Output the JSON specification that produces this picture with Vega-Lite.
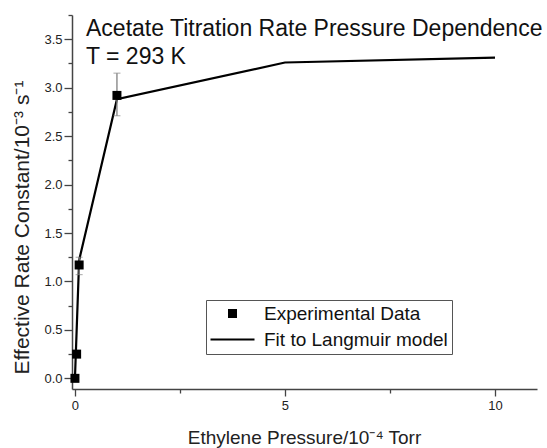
{
  "$schema": "https://vega.github.io/schema/vega-lite/v6.json",
  "width": 465,
  "height": 374,
  "autosize": "none",
  "padding": {"left": 72, "top": 15, "right": 10, "bottom": 59},
  "background": "white",
  "config": {
    "view": {"stroke": null},
    "font": "Liberation Sans",
    "axis": {"grid": false}
  },
  "title": {
    "text": ["Acetate Titration Rate Pressure Dependence", "T = 293 K"],
    "anchor": "start",
    "frame": "group",
    "fontSize": 23,
    "fontWeight": "normal",
    "color": "#111111",
    "lineHeight": 28,
    "baseline": "alphabetic",
    "offset": -73,
    "dx": 14
  },
  "datasets": {
    "fit": [
      {"P": 0, "k": 0},
      {"P": 0.1, "k": 1.22},
      {"P": 1, "k": 2.88},
      {"P": 5, "k": 3.26},
      {"P": 10, "k": 3.31}
    ],
    "exp": [
      {"P": 0, "k": 0, "lo": 0, "hi": 0, "series": "Experimental Data"},
      {"P": 0.04, "k": 0.25, "lo": 0.23, "hi": 0.27, "series": "Experimental Data"},
      {"P": 0.1, "k": 1.17, "lo": 1.07, "hi": 1.25, "series": "Experimental Data"},
      {"P": 1, "k": 2.92, "lo": 2.71, "hi": 3.15, "series": "Experimental Data"}
    ]
  },
  "layer": [
    {
      "data": {"name": "fit"},
      "mark": {"type": "line", "color": "#000000", "strokeWidth": 2.2},
      "encoding": {
        "x": {
          "field": "P", "type": "quantitative",
          "scale": {"domain": [-0.07, 11], "nice": false, "zero": false},
          "axis": {
            "orient": "bottom",
            "values": [0, 5, 10],
            "format": "d",
            "tickSize": 7, "tickWidth": 1.3, "tickColor": "#444444",
            "domainColor": "#444444", "domainWidth": 1.5,
            "labelFontSize": 13, "labelColor": "#222222", "labelPadding": 3,
            "title": "Ethylene Pressure/10⁻⁴ Torr",
            "titleFontSize": 19, "titleFontWeight": "normal", "titleColor": "#222222",
            "titleX": 232, "titleY": 54, "titleBaseline": "alphabetic", "titleAlign": "center"
          }
        },
        "y": {
          "field": "k", "type": "quantitative",
          "scale": {"domain": [-0.11, 3.75], "nice": false, "zero": false},
          "axis": {
            "orient": "left",
            "values": [0, 0.5, 1, 1.5, 2, 2.5, 3, 3.5],
            "format": ".1f",
            "tickSize": 8, "tickWidth": 1.3, "tickColor": "#444444",
            "domainColor": "#444444", "domainWidth": 1.5,
            "labelFontSize": 13, "labelColor": "#222222", "labelPadding": 2,
            "title": "Effective Rate Constant/10⁻³ s⁻¹",
            "titleFontSize": 21, "titleFontWeight": "normal", "titleColor": "#222222",
            "titleX": -50, "titleY": 212, "titleBaseline": "middle", "titleAlign": "center", "titleAngle": -90
          }
        }
      }
    },
    {
      "data": {"name": "exp"},
      "mark": {"type": "errorbar", "color": "#808080", "ticks": {"size": 7, "color": "#808080"}, "rule": {"strokeWidth": 1.3}},
      "encoding": {
        "x": {"field": "P", "type": "quantitative", "axis": null},
        "y": {"field": "lo", "type": "quantitative", "axis": null},
        "y2": {"field": "hi"}
      }
    },
    {
      "data": {"name": "exp"},
      "mark": {"type": "point", "filled": true, "size": 100, "color": "#000000", "opacity": 1},
      "encoding": {
        "x": {
          "field": "P", "type": "quantitative",
          "axis": {"orient": "bottom", "values": [2.5, 7.5], "labels": false, "domain": false, "tickSize": 4, "tickWidth": 1.3, "tickColor": "#444444", "title": null}
        },
        "y": {
          "field": "k", "type": "quantitative",
          "axis": {"orient": "left", "values": [0.25, 0.75, 1.25, 1.75, 2.25, 2.75, 3.25, 3.75], "labels": false, "domain": false, "tickSize": 4, "tickWidth": 1.3, "tickColor": "#444444", "title": null}
        },
        "shape": {
          "field": "series", "type": "nominal",
          "scale": {
            "domain": ["Experimental Data", "Fit to Langmuir model"],
            "range": ["M-0.9,-0.9H0.9V0.9H-0.9Z", "M-4.4,-0.22H4.4V0.22H-4.4Z"]
          },
          "legend": {
            "orient": "none",
            "legendX": 134,
            "legendY": 285,
            "title": null,
            "symbolSize": 100,
            "symbolFillColor": "#000000",
            "symbolStrokeWidth": 0,
            "symbolOpacity": 1,
            "symbolOffset": 13,
            "labelFontSize": 19,
            "labelColor": "#111111",
            "labelOffset": 22,
            "labelLimit": 400,
            "rowPadding": 6,
            "padding": 4,
            "strokeColor": "#555555",
            "fillColor": "white"
          }
        }
      }
    }
  ],
  "resolve": {"axis": {"x": "independent", "y": "independent"}}
}
